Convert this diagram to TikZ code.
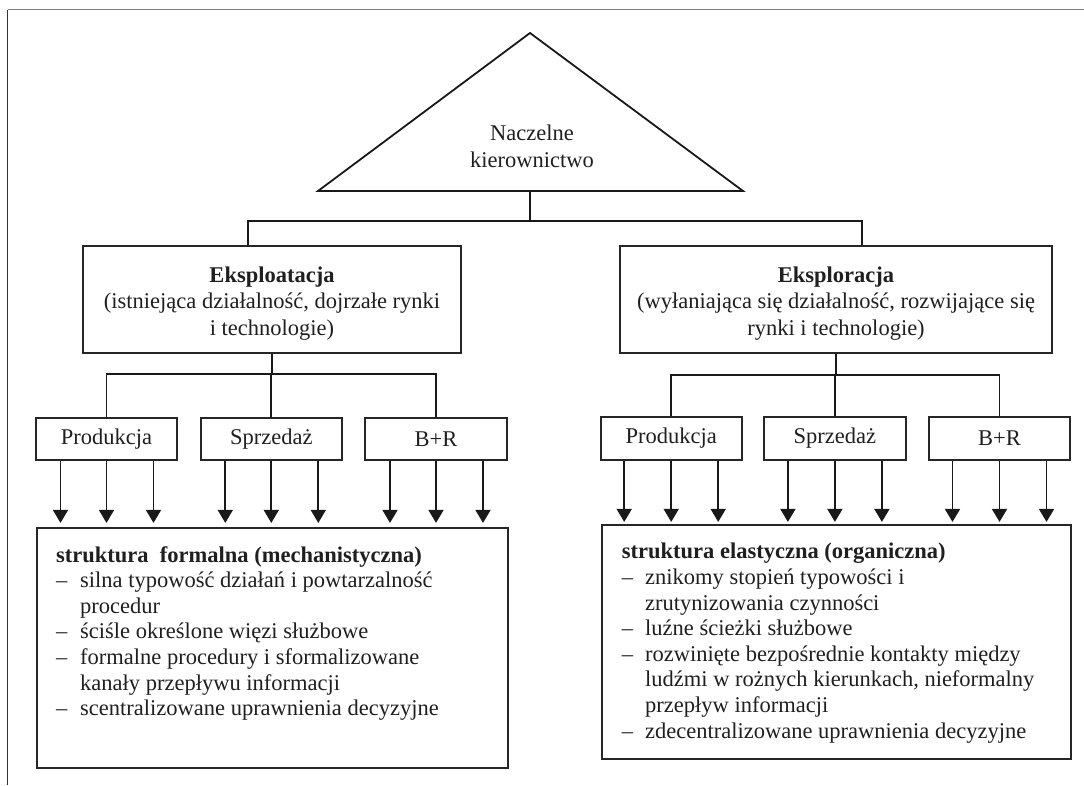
\documentclass[tikz,border=0pt]{standalone}
\usepackage{fontspec}
\setmainfont{Liberation Serif}
\usetikzlibrary{arrows.meta}
\begin{document}
\begin{tikzpicture}[x=1pt,y=-1pt,
  ln/.style={line width=1.8pt, draw=black!90},
  box/.style={draw=black!85, line width=1.8pt, inner sep=0pt},
  txt/.style={font=\fontsize{22.5}{26.5}\selectfont, text=black!88, inner sep=0pt},
  lst/.style={font=\fontsize{22.5}{25.6}\selectfont, align=left, text=black!88, inner sep=0pt, anchor=north west},
  arr/.style={line width=1.8pt, draw=black!90, -{Triangle[length=13pt,width=15pt]}}
]
\useasboundingbox (0,0) rectangle (1084,785);
% frame
\draw[black!50, line width=1.5pt] (7.5,9.5) -- (1084,9.5);
\draw[black!80, line width=1pt] (7.5,9.5) -- (7.5,785);
% triangle
\coordinate (apex) at (530,33);
\coordinate (bl) at (318,191);
\coordinate (br) at (743,191);
\coordinate (tribase) at (530,191);
\draw[ln, line join=miter] (apex) -- (br) -- (bl) -- cycle;
\node[txt, align=center, font=\fontsize{22.5}{27}\selectfont] (naczelne) at (532,146.5) {Naczelne\\kierownictwo};
% upper boxes
\node[box, minimum width=378pt, minimum height=107pt] (expl) at (272,299.5) {};
\node[txt, align=center] (expltxt) at (272,303.5) {\textbf{Eksploatacja}\\(istniejąca działalność, dojrzałe rynki\\i technologie)};
\node[box, minimum width=432pt, minimum height=107pt] (explr) at (836,299.5) {};
\node[txt, align=center] (explrtxt) at (836,303.5) {\textbf{Eksploracja}\\(wyłaniająca się działalność, rozwijające się\\rynki i technologie)};
% top connectors
\coordinate (h0) at (530,221);
\coordinate (jl) at (248,221);
\coordinate (jr) at (862,221);
\draw[ln] (tribase) -- (h0);
\draw[ln] (jl |- expl.north) -- (jl) -- (jr) -- (jr |- explr.north);
% left sub-boxes
\node[box, txt, minimum width=141pt, minimum height=42pt] (p1) at (106.5,439) {Produkcja};
\node[box, txt, minimum width=141pt, minimum height=42pt] (s1) at (271.3,439) {Sprzedaż};
\node[box, txt, minimum width=142pt, minimum height=42pt] (b1) at (436,439) {B+R};
\coordinate (ll) at (272,374);
\draw[ln] (expl.south) -- (ll);
\draw[ln] (p1.north) -- (p1.north |- ll) -- (b1.north |- ll) -- (b1.north);
\draw[ln] (s1.north) -- (s1.north |- ll);
% right sub-boxes
\node[box, txt, minimum width=141pt, minimum height=43pt] (p2) at (671.2,438.5) {Produkcja};
\node[box, txt, minimum width=141.7pt, minimum height=43pt] (s2) at (834.9,438.5) {Sprzedaż};
\node[box, txt, minimum width=141pt, minimum height=43pt] (b2) at (999.5,438.5) {B+R};
\coordinate (lr) at (836,375);
\draw[ln] (explr.south) -- (lr);
\draw[ln] (p2.north) -- (p2.north |- lr) -- (b2.north |- lr) -- (b2.north);
\draw[ln] (s2.north) -- (s2.north |- lr);
% big boxes
\node[box, minimum width=471pt, minimum height=240pt, anchor=north west] (f1) at (36,527) {};
\node[box, minimum width=469.3pt, minimum height=234pt, anchor=north west] (f2) at (600.7,524) {};
% arrows
\foreach \n in {p1,s1,b1}{
  \foreach \dx in {-46,0,47}{
    \draw[arr] ([xshift=\dx pt]\n.south) -- +(0,62);
  }
}
\foreach \n in {p2,s2,b2}{
  \foreach \dx in {-47,0,47}{
    \draw[arr] ([xshift=\dx pt]\n.south) -- +(0,61);
  }
}
% lists
\node[lst] (t1) at (56,546) {\textbf{struktura\ \ formalna (mechanistyczna)}\\
\makebox[24pt][l]{–}silna typowość działań i powtarzalność\\
\hspace*{24pt}procedur\\
\makebox[24pt][l]{–}ściśle określone więzi służbowe\\
\makebox[24pt][l]{–}formalne procedury i sformalizowane\\
\hspace*{24pt}kanały przepływu informacji\\
\makebox[24pt][l]{–}scentralizowane uprawnienia decyzyjne};
\node[lst] (t2) at (621.7,543) {\textbf{struktura elastyczna (organiczna)}\\
\makebox[23.3pt][l]{–}znikomy stopień typowości i\\
\hspace*{23.3pt}zrutynizowania czynności\\
\makebox[23.3pt][l]{–}luźne ścieżki służbowe\\
\makebox[23.3pt][l]{–}rozwinięte bezpośrednie kontakty między\\
\hspace*{23.3pt}ludźmi w rożnych kierunkach, nieformalny\\
\hspace*{23.3pt}przepływ informacji\\
\makebox[23.3pt][l]{–}zdecentralizowane uprawnienia decyzyjne};
\end{tikzpicture}
\end{document}
